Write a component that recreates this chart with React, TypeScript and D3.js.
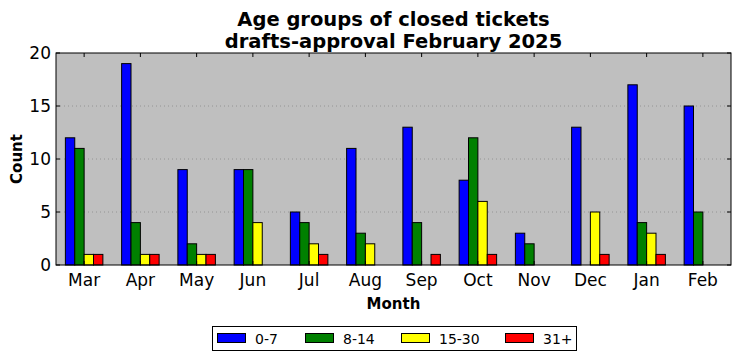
import { useEffect, useRef } from 'react';
import * as d3 from 'd3';

const months = ['Mar', 'Apr', 'May', 'Jun', 'Jul', 'Aug', 'Sep', 'Oct', 'Nov', 'Dec', 'Jan', 'Feb'];
const groups = ['0-7', '8-14', '15-30', '31+'];
const colors = ['#0000ff', '#008000', '#ffff00', '#ff0000'];

const age0to7 = [12, 19, 9, 9, 5, 11, 13, 8, 3, 13, 17, 15];
const age8to14 = [11, 4, 2, 9, 4, 3, 4, 12, 2, 0, 4, 5];
const age15to30 = [1, 1, 1, 4, 2, 2, 0, 6, 0, 5, 3, 0];
const age31plus = [1, 1, 1, 0, 1, 0, 1, 1, 0, 1, 1, 0];
const yTicks = [0, 5, 10, 15, 20];

export default function App() {
  const svgRef = useRef<SVGSVGElement>(null);

  useEffect(() => {
    if (!svgRef.current) return;
    d3.select(svgRef.current).selectAll("*").remove();

    const width = 742;
    const height = 361;
    const margin = { top: 53, right: 11, bottom: 96, left: 56 };
    const font = "DejaVu Sans, sans-serif";

    const svg = d3.select(svgRef.current)
      .attr("width", width)
      .attr("height", height)
      .style("display", "block")
      .style("font-family", font);

    const x = d3.scaleLinear()
      .domain([-0.5, months.length - 0.5])
      .range([margin.left, width - margin.right]);
    const y = d3.scaleLinear()
      .domain([0, 20])
      .range([height - margin.bottom, margin.top]);

    const series = [age0to7, age8to14, age15to30, age31plus];
    const barW = 1 / 6;

    // plot background
    svg.append("rect")
      .attr("x", x(-0.5)).attr("y", y(20))
      .attr("width", x(11.5) - x(-0.5)).attr("height", y(0) - y(20))
      .attr("fill", "#bfbfbf");

    // grid
    svg.append("g").selectAll("line")
      .data(yTicks.slice(1, -1))
      .join("line")
      .attr("x1", x(-0.5)).attr("x2", x(11.5))
      .attr("y1", d => y(d)).attr("y2", d => y(d))
      .attr("stroke", "#8a8a8a")
      .attr("stroke-width", 0.8)
      .attr("stroke-dasharray", "1,3");

    // bars
    series.forEach((vals, s) => {
      svg.append("g").selectAll("rect")
        .data(vals)
        .join("rect")
        .attr("x", (_, i) => x(i + (s - 2) * barW))
        .attr("width", x(barW) - x(0))
        .attr("y", d => y(d))
        .attr("height", d => y(0) - y(d))
        .attr("fill", colors[s])
        .attr("stroke", "#000")
        .attr("stroke-width", 1);
    });

    // axes frame
    svg.append("rect")
      .attr("x", x(-0.5)).attr("y", y(20))
      .attr("width", x(11.5) - x(-0.5)).attr("height", y(0) - y(20))
      .attr("fill", "none")
      .attr("stroke", "#000")
      .attr("stroke-width", 1);

    // ticks, inward on all sides
    const tl = 4;
    const tg = svg.append("g").attr("stroke", "#000").attr("stroke-width", 1);
    months.forEach((_, i) => {
      tg.append("line").attr("x1", x(i)).attr("x2", x(i)).attr("y1", y(0)).attr("y2", y(0) - tl);
      tg.append("line").attr("x1", x(i)).attr("x2", x(i)).attr("y1", y(20)).attr("y2", y(20) + tl);
    });
    yTicks.forEach(t => {
      tg.append("line").attr("x1", x(-0.5)).attr("x2", x(-0.5) + tl).attr("y1", y(t)).attr("y2", y(t));
      tg.append("line").attr("x1", x(11.5)).attr("x2", x(11.5) - tl).attr("y1", y(t)).attr("y2", y(t));
    });

    // tick labels
    svg.append("g").selectAll("text")
      .data(months)
      .join("text")
      .attr("x", (_, i) => x(i))
      .attr("y", y(0) + 21)
      .attr("text-anchor", "middle")
      .attr("font-size", 17)
      .text(d => d);
    svg.append("g").selectAll("text")
      .data(yTicks)
      .join("text")
      .attr("x", x(-0.5) - 5)
      .attr("y", d => y(d) + 6)
      .attr("text-anchor", "end")
      .attr("font-size", 17)
      .text(d => d);

    // axis labels
    svg.append("text")
      .attr("x", (x(-0.5) + x(11.5)) / 2)
      .attr("y", 309)
      .attr("text-anchor", "middle")
      .attr("font-size", 15)
      .attr("font-weight", "bold")
      .text("Month");
    svg.append("text")
      .attr("transform", `translate(22,${(y(0) + y(20)) / 2}) rotate(-90)`)
      .attr("text-anchor", "middle")
      .attr("font-size", 15)
      .attr("font-weight", "bold")
      .text("Count");

    // title
    const title = svg.append("text")
      .attr("text-anchor", "middle")
      .attr("font-size", 19.5)
      .attr("font-weight", "bold");
    title.append("tspan").attr("x", (x(-0.5) + x(11.5)) / 2).attr("y", 26).text("Age groups of closed tickets");
    title.append("tspan").attr("x", (x(-0.5) + x(11.5)) / 2).attr("y", 48).text("drafts-approval February 2025");

    // legend
    const lg = svg.append("g");
    lg.append("rect")
      .attr("x", 212.5).attr("y", 326.5).attr("width", 364).attr("height", 24)
      .attr("fill", "#fff").attr("stroke", "#000").attr("stroke-width", 1);
    const legX = [217, 305, 401, 505];
    groups.forEach((g, i) => {
      lg.append("rect")
        .attr("x", legX[i] + 0.5).attr("y", 333.5).attr("width", 28).attr("height", 9)
        .attr("fill", colors[i]).attr("stroke", "#000").attr("stroke-width", 1);
      lg.append("text")
        .attr("x", legX[i] + 38).attr("y", 343.5)
        .attr("font-size", 14)
        .text(g);
    });
  }, []);

  return (
    <div style={{ position: "absolute", left: 0, top: 0 }}>
      <svg ref={svgRef}></svg>
    </div>
  );
}
